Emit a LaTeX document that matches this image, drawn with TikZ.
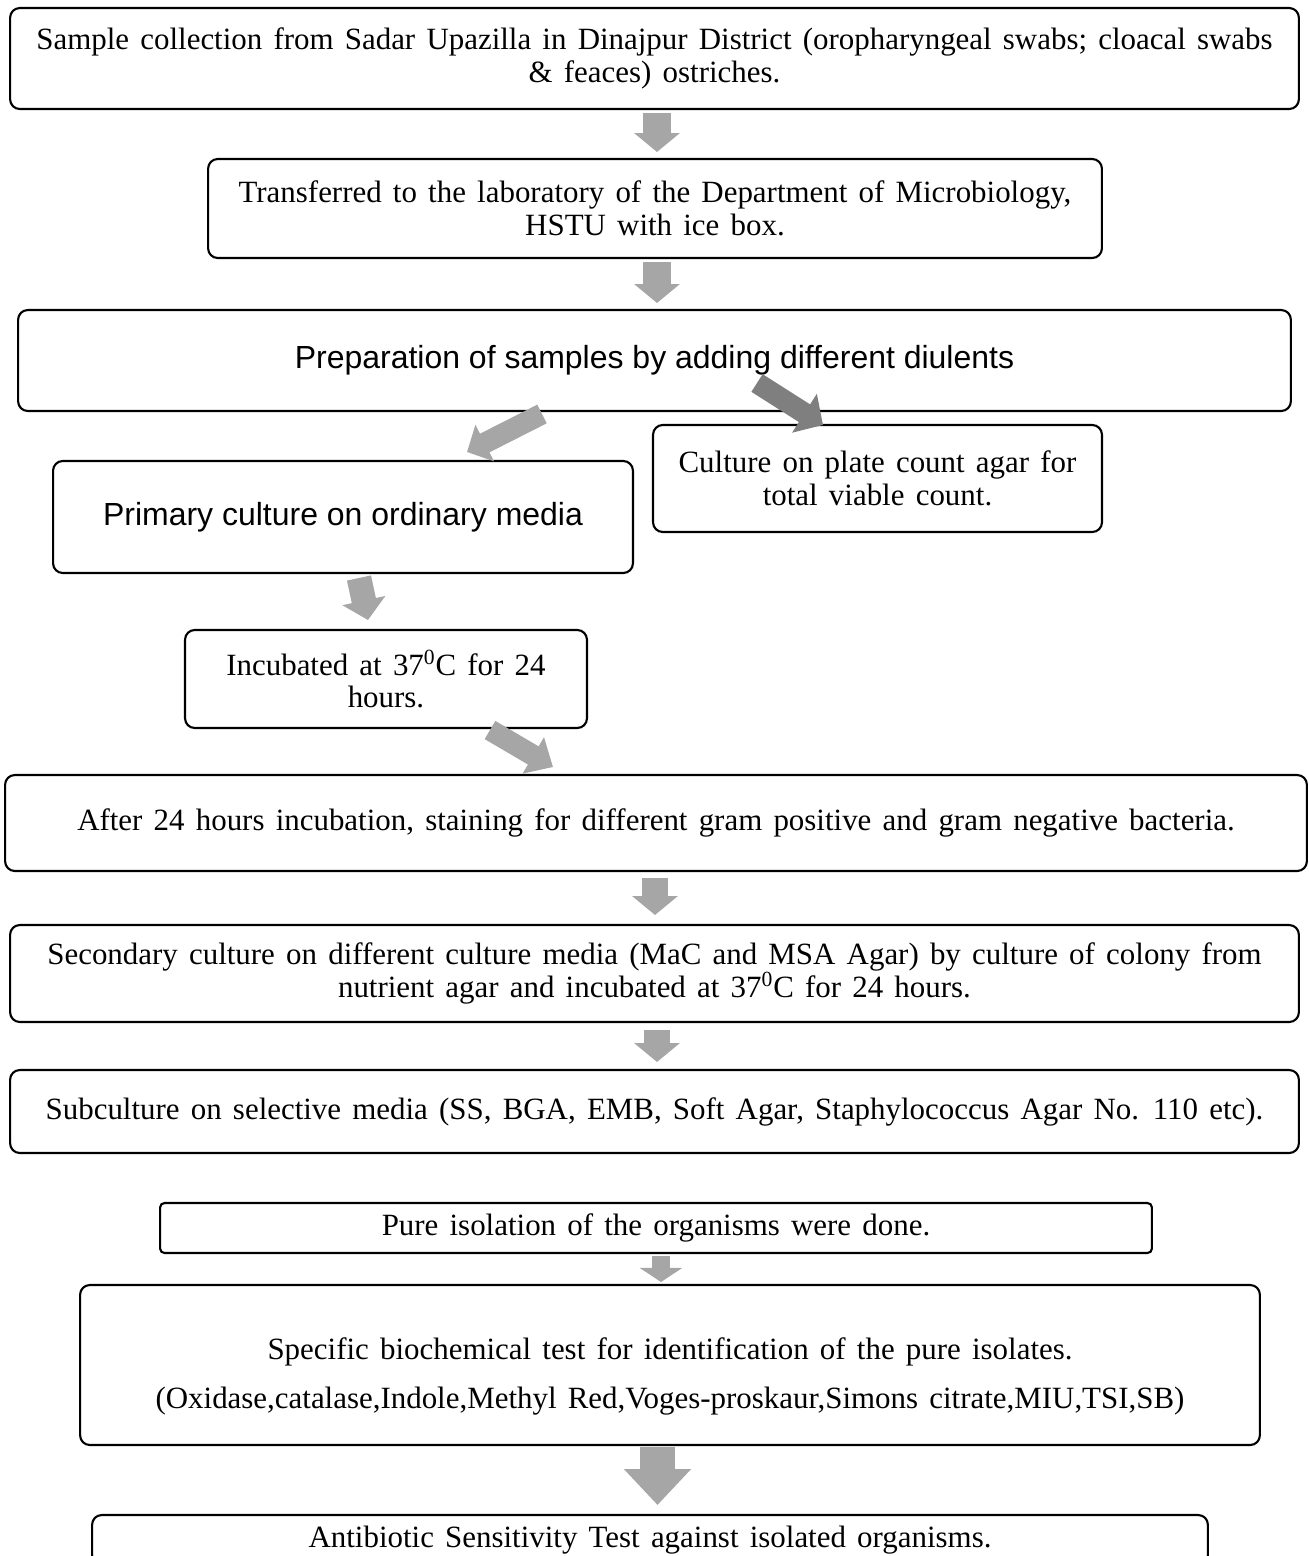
\documentclass[tikz,border=0pt]{standalone}
\usepackage{fontspec}
\setmainfont{Liberation Serif}[WordSpace=1.45]
\setsansfont{Liberation Sans}
\usetikzlibrary{arrows.meta}
\definecolor{arrowgray}{HTML}{A6A6A6}
\definecolor{arrowdark}{HTML}{7F7F7F}
\tikzset{
  flowbox/.style={draw, line width=1.2pt, rounded corners=5.5pt, fill=white,
    align=center, inner sep=0pt, font=\fontsize{17.6}{18.5}\selectfont},
  sansbox/.style={flowbox, font=\sffamily\fontsize{18.2}{21}\selectfont},
  blockarrow/.style n args={3}{draw=arrowgray, line width=#1,
    -{Triangle[width=#2,length=#3]}}
}

\begin{document}
\begin{tikzpicture}[x=0.02cm,y=-0.02cm]
\useasboundingbox (0,0) rectangle (1309,1556);

\node[flowbox, minimum width=25.78cm, minimum height=2.02cm] (collect) at (654.5,58.5)
  {Sample collection from Sadar Upazilla in Dinajpur District (oropharyngeal swabs; cloacal swabs\\ \& feaces) ostriches.};
\node[flowbox, minimum width=17.88cm, minimum height=1.98cm] (transfer) at (655,208.5)
  {Transferred to the laboratory of the Department of Microbiology,\\ HSTU with ice box.};
\node[sansbox, minimum width=25.46cm, minimum height=2.02cm] (prep) at (654.5,360.5)
  {Preparation of samples by adding different diulents};
\node[sansbox, minimum width=11.6cm, minimum height=2.24cm] (primary) at (343,517)
  {Primary culture on ordinary media};
\node[flowbox, minimum width=8.98cm, minimum height=2.14cm] (platecount) at (877.5,478.5)
  {Culture on plate count agar for\\ total viable count.};
\node[flowbox, minimum width=8.04cm, minimum height=1.96cm] (incubate) at (386,679)
  {Incubated at 37\textsuperscript{0}C for 24\\ hours.};
\node[flowbox, minimum width=26.04cm, minimum height=1.92cm] (stain) at (656,823)
  {After 24 hours incubation, staining for different gram positive and gram negative bacteria.};
\node[flowbox, minimum width=25.78cm, minimum height=1.94cm] (secondary) at (654.5,973.5)
  {Secondary culture on different culture media (MaC and MSA Agar) by culture of colony from\\ nutrient agar and incubated at 37\textsuperscript{0}C for 24 hours.};
\node[flowbox, minimum width=25.78cm, minimum height=1.66cm] (subculture) at (654.5,1111.5)
  {Subculture on selective media (SS, BGA, EMB, Soft Agar, Staphylococcus Agar No. 110 etc).};
\node[flowbox, rounded corners=2.5pt, minimum width=19.84cm, minimum height=1cm] (pure) at (656,1228)
  {Pure isolation of the organisms were done.};
\node[flowbox, minimum width=23.6cm, minimum height=3.2cm] (biochem) at (670,1365)
  {\mbox{}\\[7pt]
   Specific biochemical test for identification of the pure isolates.\\[1.2ex]
   (Oxidase,catalase,Indole,Methyl Red,Voges-proskaur,Simons citrate,MIU,TSI,SB)};
\node[flowbox, minimum width=22.32cm, minimum height=1cm] (antibiotic) at (650,1540)
  {Antibiotic Sensitivity Test against isolated organisms.};

\coordinate (a1) at (657,113);
\coordinate (b1) at (657,152);
\coordinate (a2) at (657,262);
\coordinate (b2) at (657,303);
\coordinate (a3) at (542,414);
\coordinate (b3) at (467,452);
\coordinate (a4) at (757,383);
\coordinate (b4) at (823,425);
\coordinate (a5) at (359,578);
\coordinate (b5) at (368,620);
\coordinate (a6) at (490,730);
\coordinate (b6) at (553,767);
\coordinate (a7) at (655,878);
\coordinate (b7) at (655,915);
\coordinate (a8) at (657,1030);
\coordinate (b8) at (657,1062);
\coordinate (a9) at (661,1256);
\coordinate (b9) at (661,1282);
\coordinate (a10) at (657.5,1447);
\coordinate (b10) at (657.5,1505);

\draw[blockarrow={15.9pt}{25.5pt}{10.8pt}] (a1)--(b1);
\draw[blockarrow={15.9pt}{25.5pt}{10.8pt}] (a2)--(b2);
\draw[blockarrow={11.9pt}{22.7pt}{11.3pt}] (a3)--(b3);
\draw[blockarrow={11.9pt}{25.5pt}{12.5pt}, draw=arrowdark] (a4)--(b4);
\draw[blockarrow={14pt}{24.4pt}{11.3pt}] (a5)--(b5);
\draw[blockarrow={12pt}{23.2pt}{13pt}] (a6)--(b6);
\draw[blockarrow={14.7pt}{25.5pt}{10.8pt}] (a7)--(b7);
\draw[blockarrow={14.7pt}{25.5pt}{10.8pt}] (a8)--(b8);
\draw[blockarrow={10pt}{23.8pt}{8pt}] (a9)--(b9);
\draw[blockarrow={19.8pt}{36.9pt}{20.4pt}] (a10)--(b10);

\end{tikzpicture}
\end{document}
